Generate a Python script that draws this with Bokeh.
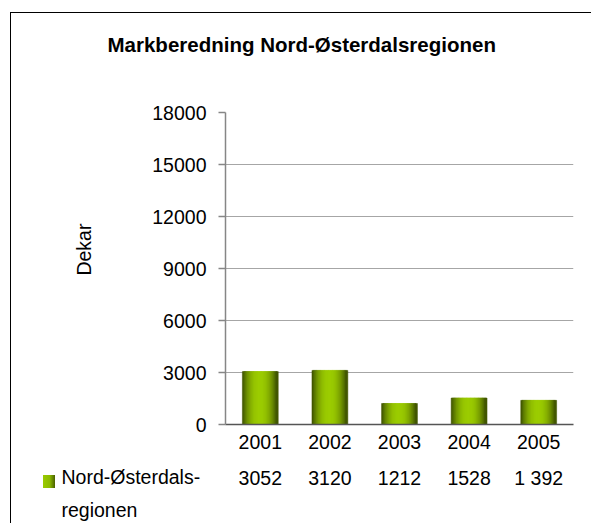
from bokeh.plotting import figure
from bokeh.models import (FactorRange, Range1d, FixedTicker, ColumnDataSource, Title,
                          CategoricalAxis, LinearAxis, InlineStyleSheet)
from bokeh.transform import dodge
from bokeh.embed import file_html
from bokeh.resources import INLINE

# ---- data ----
years = ["2001", "2002", "2003", "2004", "2005"]
values = [3052, 3120, 1212, 1528, 1392]
value_labels = ["3052", "3120", "1212", "1528", "1 392"]
series_name = "Nord-Østerdals-\nregionen"
y_ticks = [0, 3000, 6000, 9000, 12000, 15000, 18000]
title_text = "Markberedning Nord-Østerdalsregionen"
y_label = "Dekar"

FONT = "Liberation Sans"
FS = "19.5px"

p = figure(width=591, height=523, x_range=FactorRange(*years), y_range=Range1d(0, 18000),
           output_backend="svg", toolbar_location=None, title=None,
           min_border_left=225, min_border_right=18, min_border_top=112, min_border_bottom=99)
p.outline_line_color = None
p.background_fill_color = "white"
p.border_fill_color = "white"
p.extra_x_ranges = {"vals": FactorRange(*value_labels)}

src = ColumnDataSource(dict(year=years, value=values))

# gradient bars built from narrow strips
N = 26
bar_w = 0.5
w = bar_w / N
dark = (0x3a, 0x4d, 0x00)
bright = (0x9c, 0xcc, 0x00)
for i in range(N):
    off = -bar_w / 2 + (i + 0.5) * w
    t = abs(off) / (bar_w / 2)
    f = t ** 2.2
    c = tuple(int(round(b + (d - b) * f)) for b, d in zip(bright, dark))
    col = "#%02x%02x%02x" % c
    p.vbar(x=dodge("year", off, range=p.x_range), top="value", width=w * 1.8, source=src,
           fill_color=col, line_color=col, line_width=0.5)

# axes
p.yaxis.ticker = FixedTicker(ticks=y_ticks)
p.yaxis.major_tick_out = 7
p.yaxis.major_tick_in = 0
p.yaxis.minor_tick_line_color = None
p.yaxis.axis_line_color = "#868686"
p.yaxis.axis_line_width = 1.5
p.yaxis.major_tick_line_color = "#868686"
p.yaxis.major_tick_line_width = 1.5
p.yaxis.major_label_text_font = FONT
p.yaxis.major_label_text_font_size = FS
p.yaxis.major_label_text_color = "black"
p.yaxis.major_label_standoff = 12
p.yaxis.axis_label = "\u00a0" * 7 + y_label
p.yaxis.axis_label_text_font = FONT
p.yaxis.axis_label_text_font_size = FS
p.yaxis.axis_label_text_font_style = "normal"
p.yaxis.axis_label_text_color = "black"
p.yaxis.axis_label_standoff = 54

p.xaxis.major_tick_line_color = None
p.xaxis.minor_tick_line_color = None
p.xaxis.axis_line_color = "#555555"
p.xaxis.axis_line_width = 1.5
p.xaxis.major_label_text_font = FONT
p.xaxis.major_label_text_font_size = FS
p.xaxis.major_label_text_color = "black"
p.xaxis.major_label_standoff = 4

# data table row as a second categorical axis
vax = CategoricalAxis(x_range_name="vals",
                      axis_line_color=None, major_tick_line_color=None, minor_tick_line_color=None,
                      major_label_text_font=FONT, major_label_text_font_size=FS,
                      major_label_text_color="black", major_label_standoff=9)
p.add_layout(vax, "below")

# series name of the data table (pulled up beside the values row)
p.add_layout(Title(text=series_name, align="left", offset=-164, standoff=-56,
                   text_font=FONT, text_font_size=FS, text_font_style="normal",
                   text_color="black", text_line_height=1.5), "below")

p.xgrid.grid_line_color = None
p.ygrid.grid_line_color = "#a6a6a6"
p.ygrid.grid_line_width = 1

# invisible spacer between plot area and title (one hidden tick, blank label)
spacer = LinearAxis(ticker=FixedTicker(ticks=[2.5]), major_label_overrides={2.5: ""},
                    major_tick_out=52, major_tick_in=0, major_tick_line_color=None,
                    minor_tick_line_color=None, axis_line_color=None,
                    major_label_standoff=0, major_label_text_font_size="1px")
p.add_layout(spacer, "above")

# title
p.add_layout(Title(text=title_text, align="left", offset=-118, standoff=10,
                   text_font=FONT, text_font_size="20.5px", text_font_style="bold",
                   text_color="black"), "above")

# outer chart border (top and left edges) and the data-table legend key
p.stylesheets = [InlineStyleSheet(css=""":host { position: relative; }
:host::after { content: ''; position: absolute; left: 10px; top: 12px; right: 0px; bottom: 0px;
 border-top: 1.5px solid #000; border-left: 1.5px solid #000; pointer-events: none; z-index: 10; }
:host::before { content: ''; position: absolute; left: 43px; top: 475px; width: 12px; height: 13px;
 background: linear-gradient(to right, #9acb00 0%, #8cbb00 55%, #4a6000 100%); z-index: 10; pointer-events: none; }""")]

open("out.html", "w").write(file_html(p, INLINE))
